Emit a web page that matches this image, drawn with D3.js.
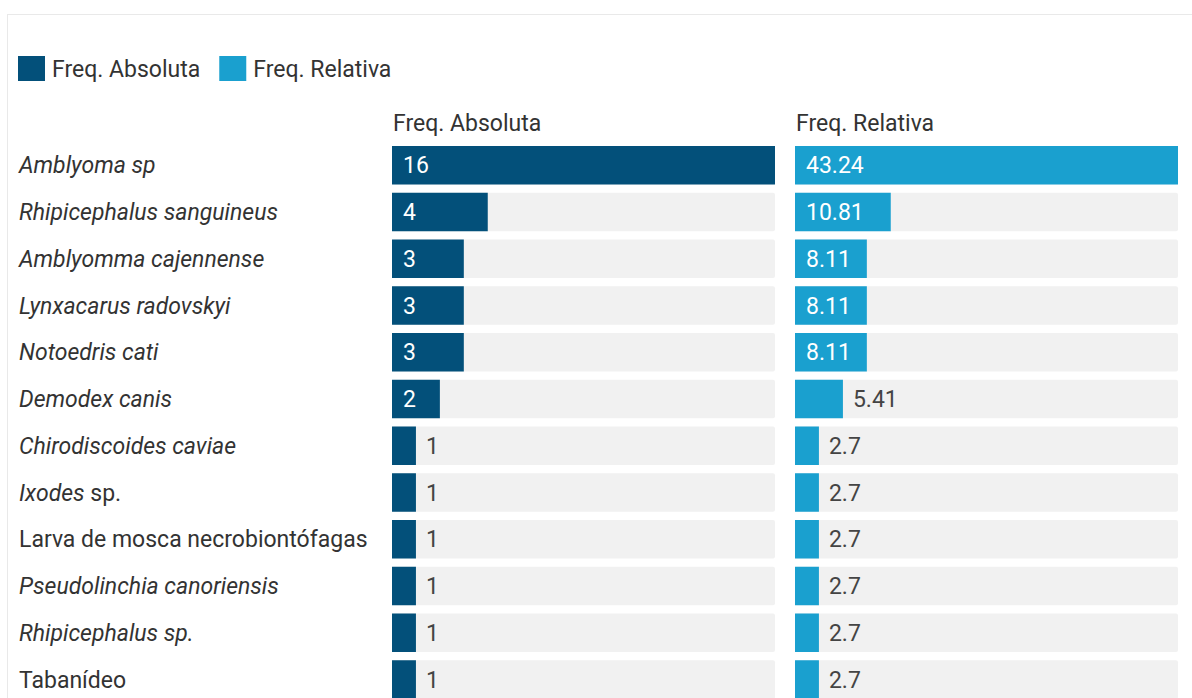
<!DOCTYPE html>
<html>
<head>
<meta charset="utf-8">
<script src="https://cdn.jsdelivr.net/npm/d3@7"></script>
<style>
  body { margin: 0; background: #fff; }
  svg { display: block; font-family: Roboto, "Noto Sans", sans-serif; }
</style>
</head>
<body>
<div id="chart"></div>
<script>
// data
const species = ["Amblyoma sp", "Rhipicephalus sanguineus", "Amblyomma cajennense", "Lynxacarus radovskyi",
    "Notoedris cati", "Demodex canis", "Chirodiscoides caviae", "Ixodes sp.",
    "Larva de mosca necrobiontófagas", "Pseudolinchia canoriensis", "Rhipicephalus sp.", "Tabanídeo"];
// part of each name set in italics (from the start)
const italicPart = ["Amblyoma sp", "Rhipicephalus sanguineus", "Amblyomma cajennense", "Lynxacarus radovskyi",
    "Notoedris cati", "Demodex canis", "Chirodiscoides caviae", "Ixodes",
    "", "Pseudolinchia canoriensis", "Rhipicephalus sp.", ""];
const freqAbsoluta = [16, 4, 3, 3, 3, 2, 1, 1, 1, 1, 1, 1];
const freqRelativa = [43.24, 10.81, 8.11, 8.11, 8.11, 5.41, 2.7, 2.7, 2.7, 2.7, 2.7, 2.7];
const seriesNames = ["Freq. Absoluta", "Freq. Relativa"];

const W = 1192, H = 698;
const colors = ["#03507a", "#1aa0cf"];
const fontSize = "23px";

const svg = d3.select("#chart").append("svg")
    .attr("width", W)
    .attr("height", H);

// light frame round the chart
svg.append("rect")
    .attr("x", 7.5).attr("y", 14.5)
    .attr("width", W).attr("height", H)
    .attr("fill", "none")
    .attr("stroke", "#e9e9e9");

// legend
let lx = 18;
seriesNames.forEach((name, i) => {
    let g = svg.append("g").attr("transform", "translate(" + lx + ",56)");
    g.append("rect").attr("width", 27).attr("height", 25).attr("fill", colors[i]);
    let t = g.append("text")
        .attr("x", 34).attr("y", 12.5).attr("dy", "0.35em")
        .style("font-size", fontSize).style("fill", "#333")
        .text(name);
    lx += 34 + t.node().getComputedTextLength() + 19;
});

const rows = species.map((s, i) => ({name: s, ital: italicPart[i], vals: [freqAbsoluta[i], freqRelativa[i]]}));

const step = 46.75, gap = 8.25, rowTop = 146;
const y = d3.scaleBand()
    .domain(species)
    .range([rowTop, rowTop + species.length * step - gap])
    .paddingInner(gap / step)
    .paddingOuter(0);

const panels = [
    {x0: 392, x1: 775, max: d3.max(freqAbsoluta)},
    {x0: 795, x1: 1178, max: d3.max(freqRelativa)}
];

// category labels
let lab = svg.append("g").selectAll("text")
    .data(rows)
    .enter().append("text")
    .attr("x", 19)
    .attr("y", d => y(d.name) + y.bandwidth() / 2)
    .attr("dy", "0.35em")
    .style("font-size", fontSize)
    .style("fill", "#333");
lab.append("tspan").style("font-style", "italic").text(d => d.ital);
lab.append("tspan").text(d => d.name.slice(d.ital.length));

panels.forEach((p, k) => {
    let x = d3.scaleLinear().domain([0, p.max]).range([p.x0, p.x1]);
    let g = svg.append("g");

    g.append("text")
        .attr("x", p.x0 + 1).attr("y", 123).attr("dy", "0.35em")
        .style("font-size", fontSize).style("fill", "#333")
        .text(seriesNames[k]);

    let row = g.selectAll(".row")
        .data(rows)
        .enter().append("g")
        .attr("class", "row")
        .attr("transform", d => "translate(0," + y(d.name) + ")");

    row.append("rect")     // background track
        .attr("x", x(0))
        .attr("width", x(p.max) - x(0))
        .attr("height", y.bandwidth())
        .attr("rx", 2)
        .attr("fill", "#f1f1f1");

    row.append("rect")
        .attr("x", x(0))
        .attr("width", d => x(d.vals[k]) - x(0))
        .attr("height", y.bandwidth())
        .attr("fill", colors[k]);

    row.append("text")
        .attr("y", y.bandwidth() / 2)
        .attr("dy", "0.35em")
        .style("font-size", fontSize)
        .text(d => d.vals[k])
        .each(function(d) {
            let t = d3.select(this);
            let w = this.getComputedTextLength();
            let bw = x(d.vals[k]) - x(0);
            if (w + 22 <= bw) {
                t.attr("x", x(0) + 11).style("fill", "#fff");
            } else {
                t.attr("x", x(d.vals[k]) + 10).style("fill", "#444");
            }
        });
});
</script>
</body>
</html>
